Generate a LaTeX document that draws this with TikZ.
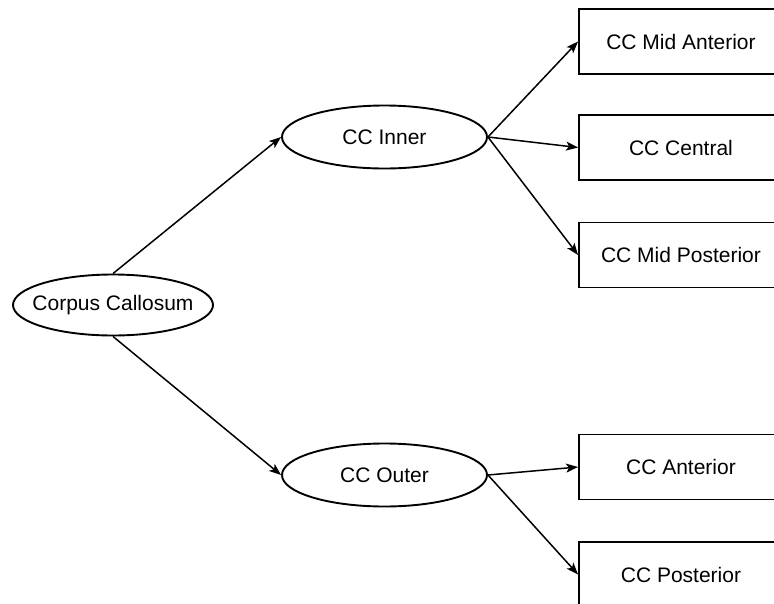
\documentclass[tikz,border=0pt]{standalone}
\usepackage{fontspec}
\setmainfont{Liberation Sans}
\usetikzlibrary{shapes.geometric,arrows.meta}
\begin{document}
\begin{tikzpicture}[x=1pt,y=-1pt,
  every node/.style={font=\fontsize{21}{25}\selectfont, inner sep=0pt},
  ell/.style={draw, ellipse, line width=1.9pt, minimum width=200pt, minimum height=61pt},
  ebox/.style={draw, rectangle, line width=1.9pt, minimum width=204pt, minimum height=65pt},
  conn/.style={line width=1.5pt, -{Stealth[length=12pt,width=9pt,inset=3pt]}}
]
\useasboundingbox (0,0) rectangle (774,603);
\clip (0,0) rectangle (774,603);
\node[ell] (cc) at (113,305) {};
\node at (113,305) {Corpus Callosum};
\node[ell, minimum width=205pt, minimum height=63pt] (inner) at (384.5,137) {};
\node at (384.5,137) {CC Inner};
\node[ell, minimum width=205pt, minimum height=63pt] (outer) at (384.5,475) {};
\node at (384.5,475) {CC Outer};
\node[ebox] (ma) at (681,41.5) {};
\node at (681,41.5) {CC Mid Anterior};
\node[ebox] (ce) at (681,147.5) {};
\node at (681,147.5) {CC Central};
\node[ebox] (mp) at (681,255) {};
\node at (681,255) {CC Mid Posterior};
\node[ebox] (an) at (681,467) {};
\node at (681,467) {CC Anterior};
\node[ebox] (po) at (681,574.5) {};
\node at (681,574.5) {CC Posterior};
\draw[conn] (cc.north) -- (inner.west);
\draw[conn] (cc.south) -- (outer.west);
\draw[conn] (inner.east) -- (ma.west);
\draw[conn] (inner.east) -- (ce.west);
\draw[conn] (inner.east) -- (mp.west);
\draw[conn] (outer.east) -- (an.west);
\draw[conn] (outer.east) -- (po.west);
\end{tikzpicture}
\end{document}
